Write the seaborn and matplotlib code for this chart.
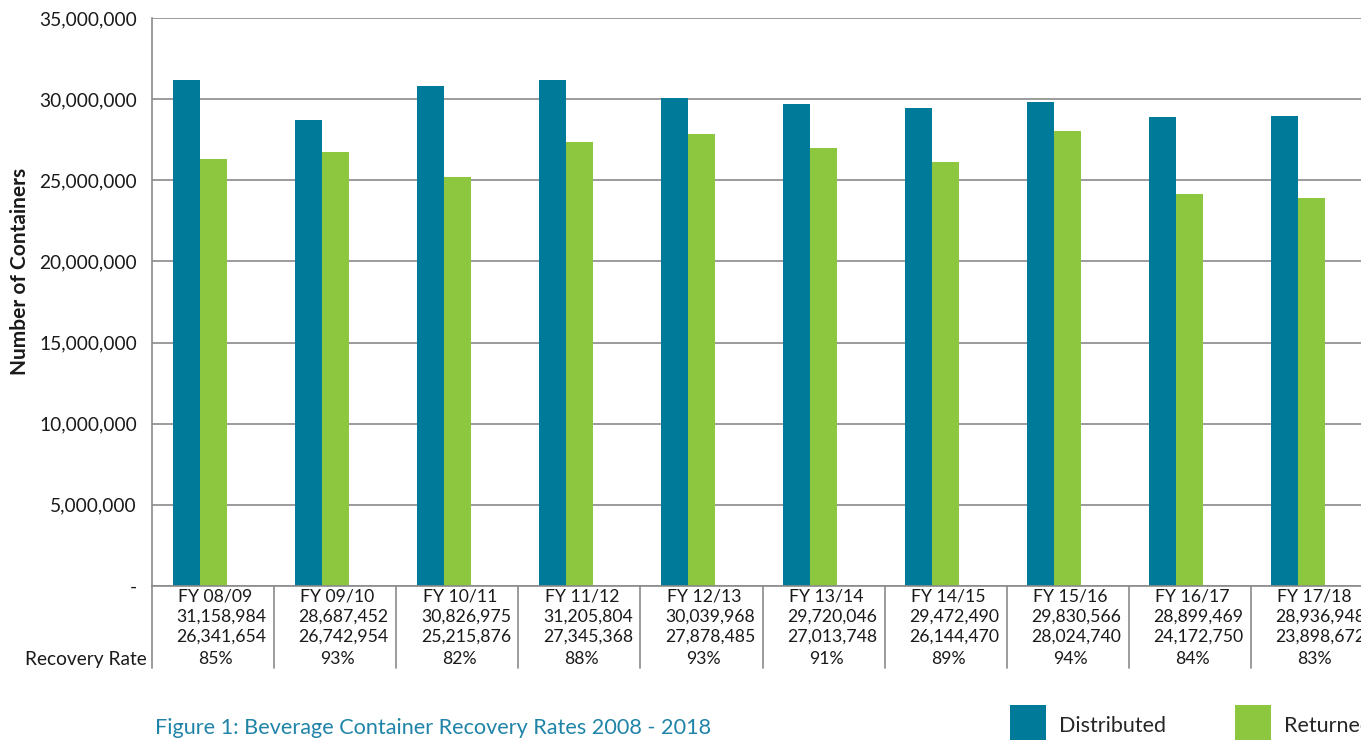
import matplotlib
matplotlib.use("Agg")
import matplotlib.pyplot as plt
from matplotlib.patches import Patch
from matplotlib.ticker import FixedLocator, FuncFormatter
import seaborn as sns
import pandas as pd

# Fiscal years and container counts
years = ["FY 08/09", "FY 09/10", "FY 10/11", "FY 11/12", "FY 12/13",
         "FY 13/14", "FY 14/15", "FY 15/16", "FY 16/17", "FY 17/18"]
distributed = [31158984, 28687452, 30826975, 31205804, 30039968,
               29720046, 29472490, 29830566, 28899469, 28936948]
returned = [26341654, 26742954, 25215876, 27345368, 27878485,
            27013748, 26144470, 28024740, 24172750, 23898672]
recovery_rate = [0.85, 0.93, 0.82, 0.88, 0.93, 0.91, 0.89, 0.94, 0.84, 0.83]

TEAL = "#007A99"
GREEN = "#8DC63F"
GRID = "#8A8A8A"
TEXT = "#1A1A1A"

sns.set_theme(style="white")
plt.rcParams["font.family"] = ["Lato", "DejaVu Sans"]

df = pd.concat([
    pd.DataFrame({"Year": years, "Series": "Distributed", "Value": distributed}),
    pd.DataFrame({"Year": years, "Series": "Returned", "Value": returned}),
    pd.DataFrame({"Year": years, "Series": "Recovery Rate", "Value": recovery_rate}),
])

W, H = 1361, 740
fig = plt.figure(figsize=(W / 100, H / 100), dpi=100)
ax_left, ax_top, ax_bottom = 152, 18, 586
cat_w = 122.1
ax_right = ax_left + cat_w * len(years)
ax = fig.add_axes([ax_left / W, 1 - ax_bottom / H,
                   (ax_right - ax_left) / W, (ax_bottom - ax_top) / H])

sns.barplot(data=df, x="Year", y="Value", hue="Series",
            hue_order=["Distributed", "Returned", "Recovery Rate"],
            palette=[TEAL, GREEN, "white"], width=0.664, saturation=1,
            ax=ax, legend=False, linewidth=0)

ax.set_xlim(-0.5, len(years) - 0.5)
ax.set_ylim(0, 35000000)
ax.yaxis.set_major_locator(FixedLocator(range(0, 35000001, 5000000)))
ax.yaxis.set_major_formatter(FuncFormatter(lambda v, p: "-" if v == 0 else f"{int(v):,}"))
ax.tick_params(axis="y", length=0, pad=11, labelsize=13.8, labelcolor=TEXT)
ax.tick_params(axis="x", length=0, labelbottom=False)
ax.set_xlabel("")
ax.set_ylabel("")
ax.yaxis.grid(True, color=GRID, linewidth=1.2)
ax.set_axisbelow(True)
for s in ["top", "right"]:
    ax.spines[s].set_visible(False)
ax.spines["left"].set_color(GRID)
ax.spines["left"].set_linewidth(1.2)
ax.spines["bottom"].set_color(GRID)
ax.spines["bottom"].set_linewidth(1.2)

# Data table beneath the bars
ah = ax_bottom - ax_top
tr = ax.get_xaxis_transform()
rows_y = [(ax_bottom - y) / ah for y in (597, 617, 637, 659)]
fs = 12.7
for i, yr in enumerate(years):
    ax.text(i + 0.02, rows_y[0], yr, transform=tr, ha="center", va="center",
            fontsize=fs, color=TEXT, clip_on=False)
    ax.text(i + 0.07, rows_y[1], f"{distributed[i]:,}", transform=tr, ha="center",
            va="center", fontsize=fs, color=TEXT, clip_on=False)
    ax.text(i + 0.07, rows_y[2], f"{returned[i]:,}", transform=tr, ha="center",
            va="center", fontsize=fs, color=TEXT, clip_on=False)
    ax.text(i + 0.02, rows_y[3], f"{recovery_rate[i]:.0%}", transform=tr, ha="center",
            va="center", fontsize=fs, color=TEXT, clip_on=False)
table_bottom = (ax_bottom - 668) / ah
for i in range(len(years) + 1):
    ax.plot([i - 0.5, i - 0.5], [0, table_bottom], transform=tr, color=GRID,
            linewidth=1.2, clip_on=False)
ax.text(-0.54, rows_y[3], "Recovery Rate", transform=tr, ha="right", va="center",
        fontsize=13.8, color=TEXT, clip_on=False)

fig.text(20 / W, 1 - 271 / H, "Number of Containers", rotation=90, ha="center",
         va="center", fontsize=15, fontweight="bold", color=TEXT)

fig.text(155 / W, 1 - 728 / H, "Figure 1: Beverage Container Recovery Rates 2008 - 2018",
         ha="left", va="center", fontsize=15.6, color="#1F84A8")

handles = [Patch(facecolor=TEAL, edgecolor="none"), Patch(facecolor=GREEN, edgecolor="none")]
fig.legend(handles, ["Distributed", "Returned"], loc="upper left",
           bbox_to_anchor=(1010 / W, 1 - 705 / H), ncol=2, frameon=False,
           fontsize=15.5, handlelength=1.68, handleheight=2.6, handletextpad=0.6,
           columnspacing=3.2, borderpad=0, borderaxespad=0)

fig.savefig("out.png", dpi=100)
